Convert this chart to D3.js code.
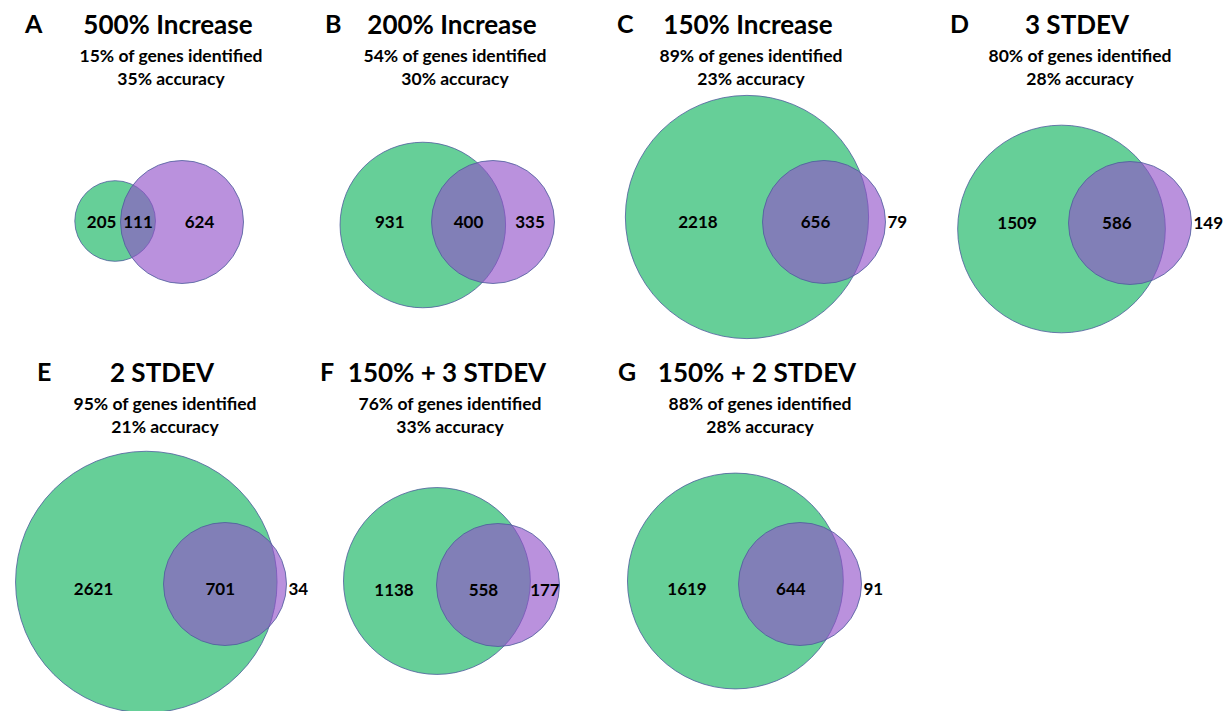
<!DOCTYPE html>
<html>
<head>
<meta charset="utf-8">
<script src="https://cdn.jsdelivr.net/npm/d3@7"></script>
<style>
    body { margin: 0; background: #fff; }
    svg { display: block; }
    text { font-family: Lato, "Noto Sans", sans-serif; font-weight: 700; fill: #000; }
    .letter { font-size: 25px; }
    .title { font-size: 26px; }
    .sub { font-size: 17.5px; }
    .count { font-size: 17px; }
</style>
</head>
<body>
<div id="chart"></div>
<script>

// panel data
let letters = ["A", "B", "C", "D", "E", "F", "G"];
let titles = ["500% Increase", "200% Increase", "150% Increase", "3 STDEV", "2 STDEV", "150% + 3 STDEV", "150% + 2 STDEV"];
let identified = [15, 54, 89, 80, 95, 76, 88];
let accuracy = [35, 30, 23, 28, 21, 33, 28];
let greenOnly = [205, 931, 2218, 1509, 2621, 1138, 1619];
let overlap = [111, 400, 656, 586, 701, 558, 644];
let purpleOnly = [624, 335, 79, 149, 34, 177, 91];

// layout per panel (title centre, letter x, heading row, purple circle centre, small green y shift)
let titleX = [168, 452, 748, 1077, 162, 447, 757];
let letterX = [25, 325, 617, 950, 37, 320, 618];
let headY = [0, 0, 0, 0, 348, 348, 348];
let purpleX = [182, 493, 824, 1130, 225, 498, 800];
let purpleY = [222, 222, 222, 223, 584, 585, 584];
let greenDy = [-1, 3, -5, 6, -2, -4, -3];

let width = 1227, height = 711;
let green = "#66cf98", purple = "#9250c9", edge = "#4d5c9c";

let svg = d3.select("#chart").append("svg")
    .attr("width", width)
    .attr("height", height);

// circle area proportional to set size (purple set = 735 genes)
let rScale = d3.scaleSqrt()
    .domain([0, 735])
    .range([0, 61.5]);

// area of the lens between two circles
function lensArea(r1, r2, d) {
    if (d >= r1 + r2) return 0;
    if (d <= Math.abs(r1 - r2)) return Math.PI * Math.min(r1, r2) ** 2;
    let a1 = Math.acos((d * d + r1 * r1 - r2 * r2) / (2 * d * r1));
    let a2 = Math.acos((d * d + r2 * r2 - r1 * r1) / (2 * d * r2));
    let k = Math.sqrt((-d + r1 + r2) * (d + r1 - r2) * (d - r1 + r2) * (d + r1 + r2));
    return r1 * r1 * a1 + r2 * r2 * a2 - 0.5 * k;
}

// find centre distance that gives the wanted overlap area
function solveDistance(r1, r2, area) {
    let lo = Math.abs(r1 - r2), hi = r1 + r2;
    for (let i = 0; i < 60; i++) {
        let mid = (lo + hi) / 2;
        if (lensArea(r1, r2, mid) > area) lo = mid; else hi = mid;
    }
    return (lo + hi) / 2;
}

letters.forEach((letter, i) => {
    // headings
    let head = svg.append("g")
        .attr("transform", `translate(0, ${headY[i]})`);

    head.append("text").attr("class", "letter")
        .attr("x", letterX[i]).attr("y", 33)
        .text(letter);

    head.append("text").attr("class", "title")
        .attr("x", titleX[i]).attr("y", 34)
        .attr("text-anchor", "middle")
        .text(titles[i]);

    head.append("text").attr("class", "sub")
        .attr("x", titleX[i] + 3).attr("y", 62)
        .attr("text-anchor", "middle")
        .text(identified[i] + "% of genes identified");

    head.append("text").attr("class", "sub")
        .attr("x", titleX[i] + 3).attr("y", 85)
        .attr("text-anchor", "middle")
        .text(accuracy[i] + "% accuracy");

    // venn geometry
    let r1 = rScale(greenOnly[i] + overlap[i]);
    let r2 = rScale(purpleOnly[i] + overlap[i]);
    let lens = Math.PI * rScale(overlap[i]) ** 2;
    let d = solveDistance(r1, r2, lens);

    let cy = purpleY[i];
    let px = purpleX[i];
    let gx = px - d;

    svg.append("circle")
        .attr("cx", gx).attr("cy", cy + greenDy[i]).attr("r", r1)
        .attr("fill", green)
        .attr("stroke", edge).attr("stroke-width", 0.8);

    svg.append("circle")
        .attr("cx", px).attr("cy", cy).attr("r", r2)
        .attr("fill", purple).attr("fill-opacity", 0.63)
        .attr("stroke", edge).attr("stroke-width", 0.8);

    // count labels
    let labelY = i < 4 ? cy - 1 : cy + 4;
    let leftMid = ((gx - r1) + (px - r2)) / 2 + 4;
    let midMid = ((px - r2) + Math.min(gx + r1, px + r2)) / 2;
    let narrow = purpleOnly[i] / (purpleOnly[i] + overlap[i]) < 0.22;

    svg.append("text").attr("class", "count")
        .attr("x", leftMid).attr("y", labelY)
        .attr("text-anchor", "middle")
        .attr("dominant-baseline", "central")
        .text(greenOnly[i]);

    svg.append("text").attr("class", "count")
        .attr("x", midMid).attr("y", labelY)
        .attr("text-anchor", "middle")
        .attr("dominant-baseline", "central")
        .text(overlap[i]);

    svg.append("text").attr("class", "count")
        .attr("x", narrow ? px + r2 + 2 : ((gx + r1) + (px + r2)) / 2)
        .attr("y", labelY)
        .attr("text-anchor", narrow ? "start" : "middle")
        .attr("dominant-baseline", "central")
        .text(purpleOnly[i]);
});

</script>
</body>
</html>
